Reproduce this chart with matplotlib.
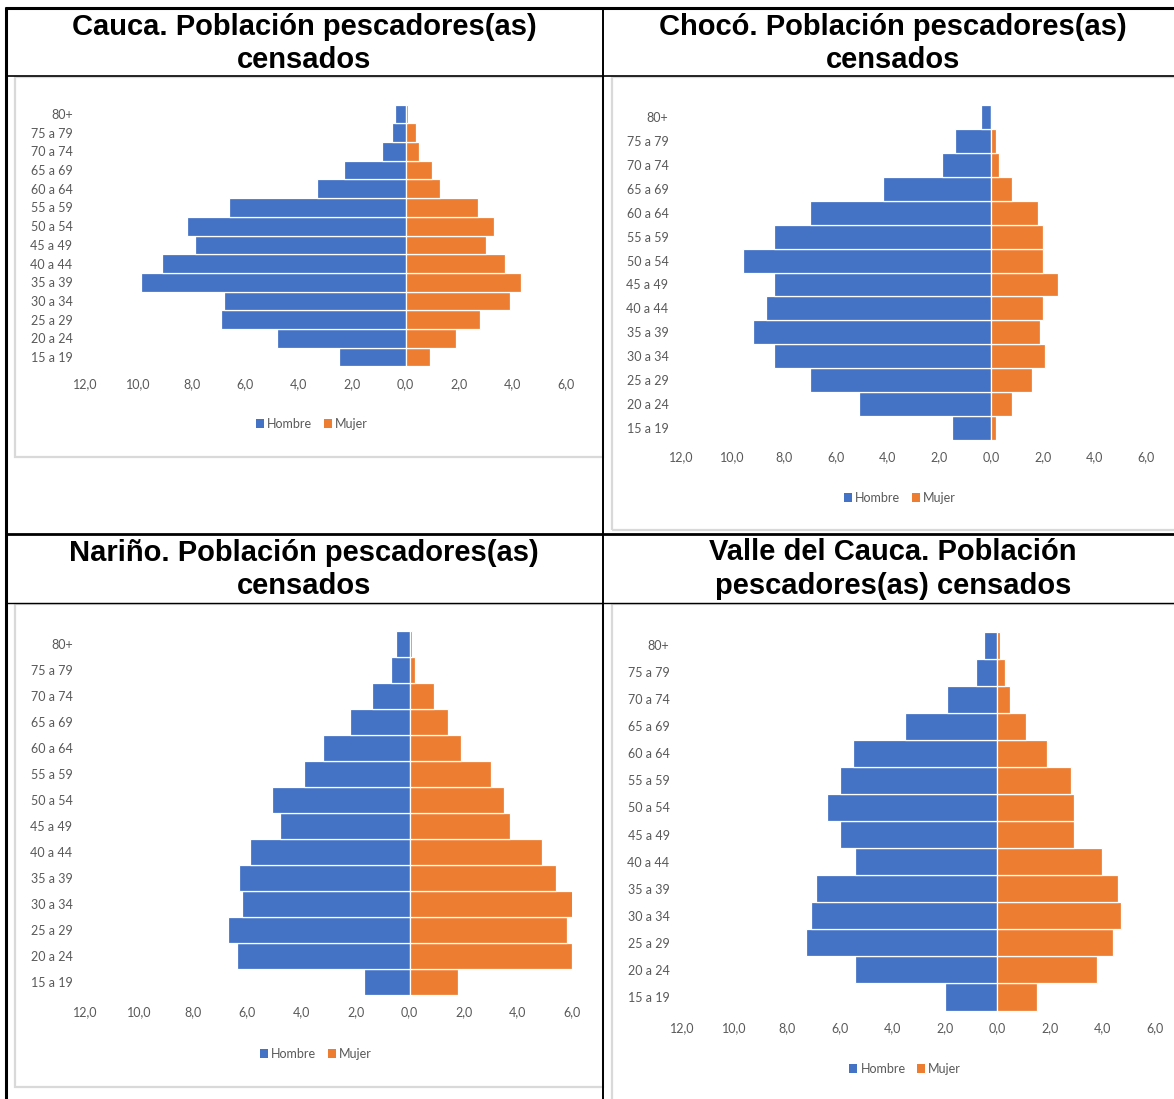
import matplotlib
matplotlib.use("Agg")
import matplotlib.pyplot as plt
from matplotlib.patches import Rectangle, Patch
from matplotlib.lines import Line2D

# ---------------- data ----------------
age_groups = ["15 a 19", "20 a 24", "25 a 29", "30 a 34", "35 a 39", "40 a 44",
              "45 a 49", "50 a 54", "55 a 59", "60 a 64", "65 a 69", "70 a 74",
              "75 a 79", "80+"]

cauca_hombre = [2.5, 4.8, 6.9, 6.8, 9.9, 9.1, 7.9, 8.2, 6.6, 3.3, 2.3, 0.9, 0.5, 0.4]
cauca_mujer = [0.9, 1.9, 2.8, 3.9, 4.3, 3.7, 3.0, 3.3, 2.7, 1.3, 1.0, 0.5, 0.4, 0.1]

choco_hombre = [1.5, 5.1, 7.0, 8.4, 9.2, 8.7, 8.4, 9.6, 8.4, 7.0, 4.2, 1.9, 1.4, 0.4]
choco_mujer = [0.2, 0.8, 1.6, 2.1, 1.9, 2.0, 2.6, 2.0, 2.0, 1.8, 0.8, 0.3, 0.2, 0.0]

narino_hombre = [1.7, 6.4, 6.7, 6.2, 6.3, 5.9, 4.8, 5.1, 3.9, 3.2, 2.2, 1.4, 0.7, 0.5]
narino_mujer = [1.8, 6.0, 5.8, 6.1, 5.4, 4.9, 3.7, 3.5, 3.0, 1.9, 1.4, 0.9, 0.2, 0.1]

valle_hombre = [2.0, 5.4, 7.3, 7.1, 6.9, 5.4, 6.0, 6.5, 6.0, 5.5, 3.5, 1.9, 0.8, 0.5]
valle_mujer = [1.5, 3.8, 4.4, 4.7, 4.6, 4.0, 2.9, 2.9, 2.8, 1.9, 1.1, 0.5, 0.3, 0.1]

x_ticks = [-12, -10, -8, -6, -4, -2, 0, 2, 4, 6]
x_tick_labels = ["12,0", "10,0", "8,0", "6,0", "4,0", "2,0", "0,0", "2,0", "4,0", "6,0"]

series_names = ["Hombre", "Mujer"]
titles = [
    ["Cauca. Población pescadores(as)", "censados"],
    ["Chocó. Población pescadores(as)", "censados"],
    ["Nariño. Población pescadores(as)", "censados"],
    ["Valle del Cauca. Población", "pescadores(as) censados"],
]

# ---------------- styling ----------------
W, H = 1174, 1099
BLUE = "#4472C4"
ORANGE = "#ED7D31"
GRAY_TXT = "#595959"
FRAME = "#d9d9d9"
LBL_FONT = ["Lato", "DejaVu Sans"]
TITLE_FONT = ["Liberation Sans", "DejaVu Sans"]

fig = plt.figure(figsize=(W / 100, H / 100), dpi=100)
fig.patch.set_facecolor("white")


def fx(x):
    return x / W


def fy(y):
    return 1 - y / H


def hline(y, x0, x1, lw, color="black"):
    fig.add_artist(Line2D([fx(x0), fx(x1)], [fy(y), fy(y)], transform=fig.transFigure,
                          color=color, lw=lw, solid_capstyle="butt"))


def vline(x, y0, y1, lw, color="black"):
    fig.add_artist(Line2D([fx(x), fx(x)], [fy(y0), fy(y1)], transform=fig.transFigure,
                          color=color, lw=lw, solid_capstyle="butt"))


# chart frames (light gray boxes)
frames = [(15, 77, 603, 457), (612, 77, 1180, 530), (15, 604, 603, 1087), (612, 604, 1180, 1105)]
for (x0, y0, x1, y1) in frames:
    fig.add_artist(Rectangle((fx(x0), fy(y1)), fx(x1) - fx(x0), fy(y0) - fy(y1),
                             transform=fig.transFigure, fill=False, edgecolor=FRAME, lw=1.6))

# table grid lines
hline(8, 5, 1174, 2.2)
hline(76, 5, 1174, 1.2)
hline(534, 5, 1174, 2.0)
hline(603, 5, 1174, 1.0)
vline(6, 7, 1099, 2.2)
vline(603, 7, 1099, 1.4)

# titles
title_pos = [(304, 27, 60), (893, 27, 60), (304, 553, 586), (893, 552, 586)]
for (cx, y1, y2), (l1, l2) in zip(title_pos, titles):
    fig.text(fx(cx), fy(y1), l1, ha="center", va="center", fontsize=21,
             fontweight="bold", family=TITLE_FONT, color="black")
    fig.text(fx(cx), fy(y2), l2, ha="center", va="center", fontsize=21,
             fontweight="bold", family=TITLE_FONT, color="black")

# chart axes: (x_left(-12), x_right(6), y_top, y_bottom) in pixels, legend center
charts = [
    (cauca_hombre, cauca_mujer, (85, 566, 104.7, 366.3), (312, 424)),
    (choco_hombre, choco_mujer, (681, 1146, 105, 440), (900, 498)),
    (narino_hombre, narino_mujer, (85, 572, 631, 995), (316, 1054)),
    (valle_hombre, valle_mujer, (682, 1155, 631.5, 1010.5), (905, 1069)),
]

ypos = list(range(len(age_groups)))
for hombre, mujer, (x0, x1, y0, y1), (lx, ly) in charts:
    ax = fig.add_axes([fx(x0), fy(y1), fx(x1) - fx(x0), fy(y0) - fy(y1)])
    ax.barh(ypos, [-v for v in hombre], height=1.0, color=BLUE, edgecolor="white",
            linewidth=0.9, label=series_names[0])
    ax.barh(ypos, mujer, height=1.0, color=ORANGE, edgecolor="white",
            linewidth=0.9, label=series_names[1])
    ax.set_xlim(-12, 6)
    ax.set_ylim(-0.5, len(age_groups) - 0.5)
    ax.set_xticks(x_ticks)
    ax.set_xticklabels(x_tick_labels)
    ax.set_yticks(ypos)
    ax.set_yticklabels(age_groups)
    for s in ax.spines.values():
        s.set_visible(False)
    ax.tick_params(axis="both", length=0, colors=GRAY_TXT, labelsize=9)
    ax.tick_params(axis="x", pad=8.3)
    ax.tick_params(axis="y", pad=9.0)
    for lab in ax.get_xticklabels() + ax.get_yticklabels():
        lab.set_family(LBL_FONT)
    ax.set_facecolor("none")
    handles = [Patch(facecolor=BLUE, edgecolor="none"), Patch(facecolor=ORANGE, edgecolor="none")]
    fig.legend(handles, series_names, loc="center", bbox_to_anchor=(fx(lx), fy(ly)),
               ncol=2, frameon=False, handlelength=0.65, handleheight=0.65,
               handletextpad=0.25, columnspacing=0.9,
               prop={"family": LBL_FONT, "size": 9}, labelcolor=GRAY_TXT)

fig.savefig("out.png", dpi=100)
